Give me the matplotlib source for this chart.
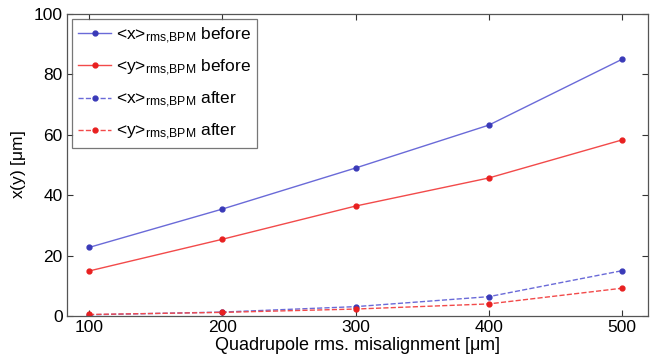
import matplotlib
matplotlib.use("Agg")
import matplotlib.pyplot as plt

plt.rcParams['font.family'] = ['Liberation Sans', 'DejaVu Sans']
plt.rcParams['mathtext.fontset'] = 'custom'
plt.rcParams['mathtext.rm'] = 'Liberation Sans'
plt.rcParams['mathtext.it'] = 'Liberation Sans'

misalignment = [100, 200, 300, 400, 500]
x_before = [22.7, 35.4, 49.0, 63.2, 85.0]
y_before = [14.9, 25.4, 36.4, 45.7, 58.3]
x_after = [0.4, 1.3, 3.1, 6.4, 15.0]
y_after = [0.5, 1.2, 2.3, 4.0, 9.2]

labels = [r'<x>$_{\mathrm{rms{,}BPM}}$ before',
          r'<y>$_{\mathrm{rms{,}BPM}}$ before',
          r'<x>$_{\mathrm{rms{,}BPM}}$ after',
          r'<y>$_{\mathrm{rms{,}BPM}}$ after']

blue_line = '#6a6ad8'
blue_mk = '#3a3ab8'
red_line = '#f24a4a'
red_mk = '#e82020'

fig = plt.figure(figsize=(6.66, 3.6), dpi=100)
ax = fig.add_axes([67/666, 1 - 316/360, (648-67)/666, (316-14)/360])

ax.plot(misalignment, x_before, '-', color=blue_line, lw=1.0, marker='o', ms=3.5,
        mfc=blue_mk, mec=blue_mk, label=labels[0])
ax.plot(misalignment, y_before, '-', color=red_line, lw=1.0, marker='o', ms=3.5,
        mfc=red_mk, mec=red_mk, label=labels[1])
ax.plot(misalignment, x_after, '--', color=blue_line, lw=1.0, marker='o', ms=3.5,
        mfc=blue_mk, mec=blue_mk, label=labels[2])
ax.plot(misalignment, y_after, '--', color=red_line, lw=1.0, marker='o', ms=3.5,
        mfc=red_mk, mec=red_mk, label=labels[3])

ax.set_xlim(83.5, 519.5)
ax.set_ylim(0, 100)
ax.set_xticks(misalignment)
ax.set_yticks([0, 20, 40, 60, 80, 100])
ax.tick_params(direction='in', top=True, right=True, labelsize=12.5, length=4,
               color='#333333', width=0.8, pad=3)
for s in ax.spines.values():
    s.set_color('#555555')
    s.set_linewidth(0.9)

ax.set_xlabel(r'Quadrupole rms. misalignment [$\mathrm{\mu}$m]', fontsize=13, labelpad=0)
ax.set_ylabel(r'x(y) [$\mathrm{\mu}$m]', fontsize=12.5, labelpad=4)

leg = ax.legend(loc='upper left', fontsize=12.5, frameon=True, fancybox=False,
                edgecolor='#555555', borderaxespad=0.3, handlelength=1.9,
                handletextpad=0.3, labelspacing=0.68, borderpad=0.35)
leg.get_frame().set_linewidth(0.9)

fig.savefig('out.png', dpi=100)
